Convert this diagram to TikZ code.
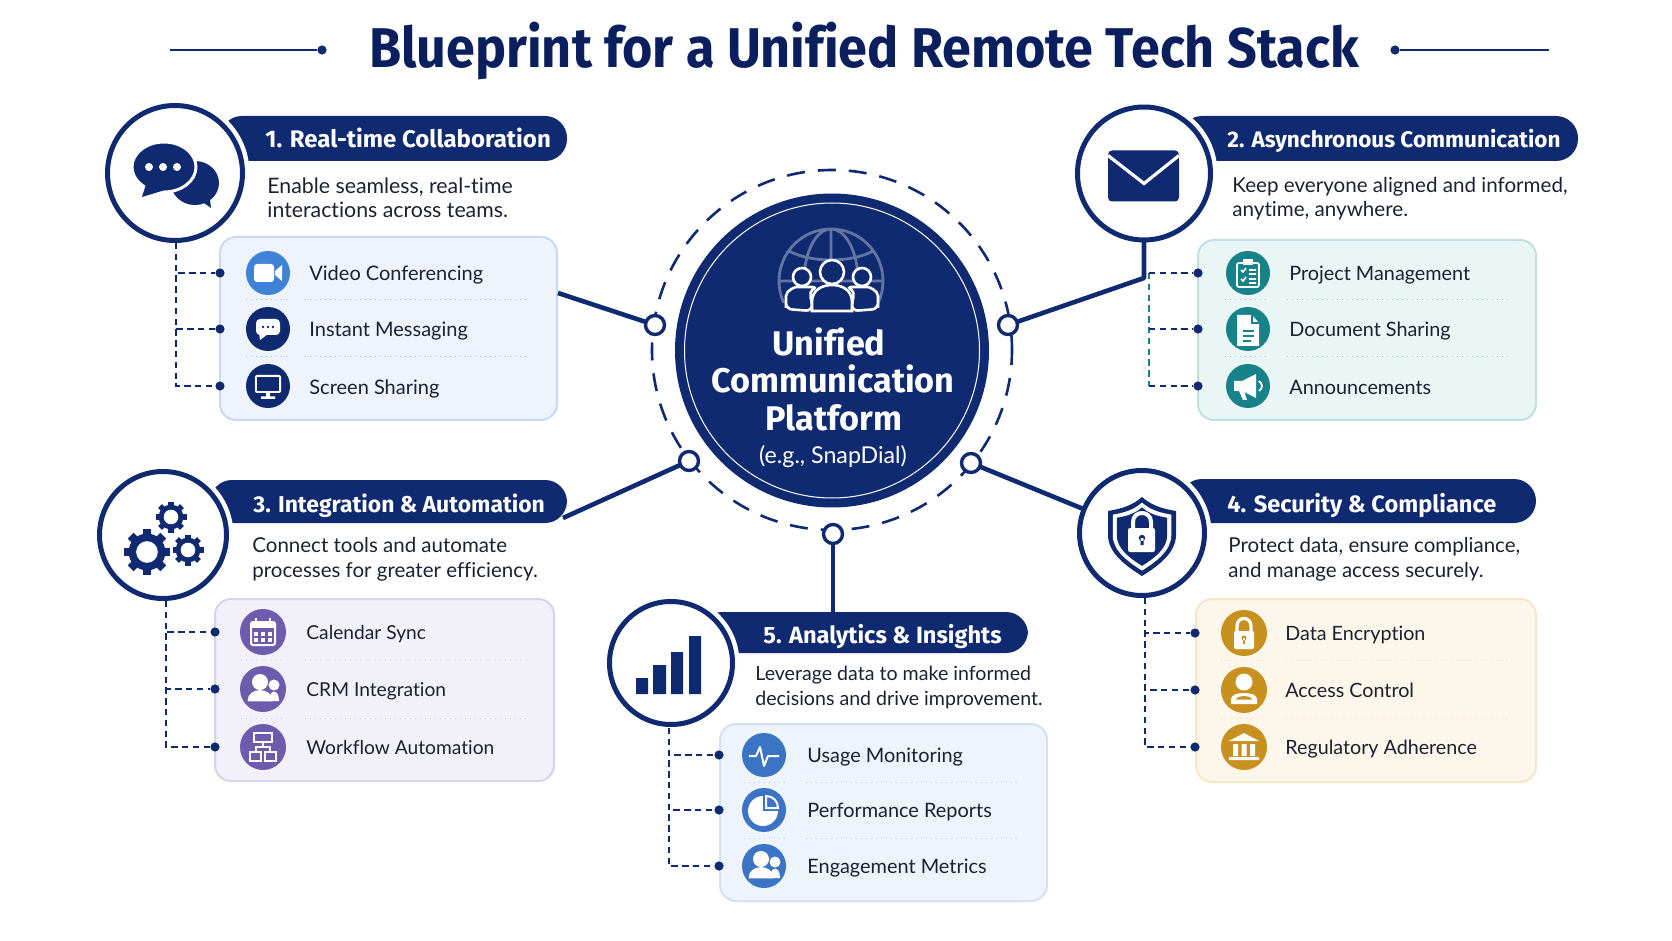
\documentclass[tikz,border=0pt]{standalone}
\usepackage{fontspec}
\setmainfont[Ligatures=NoCommon]{Lato}
\newfontfamily\headfont[Ligatures=NoCommon]{Fira Sans}
\newfontfamily\titlefont[Ligatures=NoCommon,FakeStretch=0.93]{Fira Sans}
\definecolor{navy}{HTML}{0F2A70}
\definecolor{inkblue}{HTML}{0B1F5E}
\definecolor{inktext}{HTML}{1B2130}
\definecolor{vidblue}{HTML}{3F82D8}
\definecolor{tealic}{HTML}{17828A}
\definecolor{purpleic}{HTML}{6F5BAE}
\definecolor{goldic}{HTML}{C8901E}
\definecolor{bluic}{HTML}{3B74C4}
\newcommand{\shieldpath}{(0,-40) .. controls (10,-31) and (22,-28) .. (34,-26) -- (34,-2) .. controls (34,16) and (16,29) .. (0,39) .. controls (-16,29) and (-34,16) .. (-34,-2) -- (-34,-26) .. controls (-22,-28) and (-10,-31) .. (0,-40) -- cycle}

\begin{document}
\begin{tikzpicture}[x=0.5pt,y=-0.5pt]
        % Setup the styles
        \tikzset{titletext/.style={anchor=base, inner sep=0, text=inkblue, font=\titlefont\bfseries\fontsize{28}{32}\selectfont},
                 headpill/.style={fill=navy, rounded corners=11pt, inner sep=0, outer sep=0},
                 headtext/.style={anchor=base west, inner sep=0, text=white, font=\headfont\bfseries\fontsize{#1}{14}\selectfont},
                 hubtext/.style={anchor=base, inner sep=0, text=white, font=\headfont\bfseries\fontsize{17.1}{19}\selectfont},
                 desctext/.style={anchor=base west, inner sep=0, align=left, text=inktext, font=\fontsize{#1}{12.3}\selectfont},
                 itemtext/.style={anchor=base west, inner sep=0, text=inktext, font=\fontsize{#1}{12}\selectfont},
                 panelbox/.style={rounded corners=8pt, line width=1pt, inner sep=0, outer sep=0},
                 iconring/.style={circle, inner sep=0, outer sep=0, draw=navy, fill=white, line width=2.5pt,
                                  preaction={draw=white, line width=7pt}},
                 itemicon/.style={circle, inner sep=0, outer sep=0, minimum size=22pt},
                 stubdot/.style={circle, inner sep=0, outer sep=0, fill=navy, minimum size=4.6pt},
                 port/.style={circle, inner sep=0, outer sep=0, minimum size=9.5pt, draw=navy, fill=white, line width=1.7pt},
                 spoke/.style={draw=navy, line width=2.3pt},
                 dashlink/.style={draw=navy, line width=0.8pt, dash pattern=on 3.2pt off 2.2pt},
                 seprule/.style={line width=0.5pt, dotted},
                 % Big icons in the rings
                 icon chat/.pic={
                     \fill[navy] (20,10) ellipse (24 and 22);
                     \fill[navy] (22,25) -- (36,35) -- (34,18) -- cycle;
                     \fill[navy, draw=white, line width=1.5pt] (-11,-6) ellipse (32 and 25);
                     \fill[navy] (-28,8) -- (-33,24) -- (-10,17) -- cycle;
                     \fill[white] (-26,-6) circle (4) (-12,-6) circle (4) (2,-6) circle (4);},
                 icon mail/.pic={
                     \fill[navy, rounded corners=2pt] (-36,-23) rectangle (35,28);
                     \draw[white, line width=1.6pt] (-36,-18) -- (0,10) -- (35,-18);},
                 icon gears/.pic={
                     \foreach \gx/\gy/\gr in {-16/17/23, 8/-18/15.5, 25/15/15.5} {
                         \fill[navy] (\gx,\gy) circle (\gr*0.8);
                         \foreach \a in {0,45,...,315}
                             \fill[navy, rotate around={\a:(\gx,\gy)}] (\gx-\gr*0.18,\gy-\gr*0.7) rectangle (\gx+\gr*0.18,\gy-\gr);
                         \fill[white] (\gx,\gy) circle (\gr*0.47);
                     }},
                 icon shield/.pic={
                     \begin{scope}[shift={(0,4)}]
                     \fill[navy] \shieldpath;
                     \fill[white, scale=0.86] \shieldpath;
                     \fill[navy, scale=0.74] \shieldpath;
                     \end{scope}
                     \fill[white, rounded corners=1pt] (-14,-5) rectangle (13,19);
                     \draw[white, line width=2pt] (-9,-5) -- (-9,-11) .. controls (-9,-23) and (9,-23) .. (9,-11) -- (9,-5);
                     \fill[navy] (0,5) circle (3.2) (-1.5,5) rectangle (1.5,12);},
                 icon bars/.pic={
                     \fill[navy] (-35,15) rectangle (-23,31) (-18,2) rectangle (-5,31)
                                 (0,-11) rectangle (12,31) (18,-27) rectangle (30,31);},
                 % Small icons in the lists
                 icon video/.pic={
                     \fill[white, rounded corners=1.5pt] (-14,-9) rectangle (6,9);
                     \fill[white] (7,-2) -- (14,-8) -- (14,8) -- (7,2) -- cycle;},
                 icon msg/.pic={
                     \fill[white, rounded corners=2pt] (-12,-10) rectangle (12,6);
                     \fill[white] (-9,4) -- (-8,11) -- (0,5) -- cycle;
                     \fill[navy] (-5,-2) circle (1.3) (0,-2) circle (1.3) (5,-2) circle (1.3);},
                 icon screen/.pic={
                     \fill[white, rounded corners=1pt] (-13,-11) rectangle (13,7);
                     \fill[navy] (-11,-9) rectangle (11,5);
                     \fill[white] (-2,7) rectangle (2,11) (-7,10.5) rectangle (7,13);},
                 icon clip/.pic={
                     \draw[white, line width=0.9pt, rounded corners=1pt] (-11,-10) rectangle (11,14);
                     \fill[white] (-5,-14) rectangle (5,-8);
                     \draw[white, line width=0.8pt] (-7,-3) -- (-5,-1) -- (-2,-5) (-7,6) -- (-5,8) -- (-2,4)
                                                    (1,-3) -- (8,-3) (1,1) -- (8,1) (1,6) -- (8,6) (1,10) -- (8,10);},
                 icon doc/.pic={
                     \fill[white] (-11,-14) -- (4,-14) -- (11,-6) -- (11,17) -- (-11,17) -- cycle;
                     \draw[tealic, line width=0.6pt] (4,-14) -- (4,-6) -- (11,-6);
                     \draw[tealic, line width=0.8pt] (-5,2) -- (6,2) (-5,7) -- (6,7) (-5,12) -- (3,12);},
                 icon horn/.pic={
                     \fill[white] (-14,-5) -- (-6,-5) -- (8,-12) -- (8,12) -- (-6,5) -- (-14,5) -- cycle;
                     \fill[white] (-9,5) -- (-4,5) -- (-1,14) -- (-5,14) -- cycle;
                     \draw[white, line width=0.9pt] (11,-5) .. controls (15,-2) and (15,2) .. (11,5);},
                 icon cal/.pic={
                     \draw[white, line width=1pt, rounded corners=1pt] (-12,-10) rectangle (12,13);
                     \fill[white] (-12,-10) rectangle (12,-4);
                     \draw[white, line width=1pt] (-7,-14) -- (-7,-9) (7,-14) -- (7,-9);
                     \foreach \cx in {-7,0,7} \foreach \cy in {2,8}
                         \fill[white] (\cx-2.2,\cy-2.2) rectangle (\cx+2.2,\cy+2.2);},
                 icon people/.pic={
                     \fill[white] (11,-4) circle (5.5);
                     \fill[white] (6,12) .. controls (6,0) and (16,-1) .. (16,12) -- cycle;
                     \fill[white] (-3,-7) circle (8);
                     \fill[white, draw=white] (-15,12) .. controls (-15,-2) and (9,-2) .. (9,12) -- cycle;},
                 icon flow/.pic={
                     \draw[white, line width=1pt] (-9,-14) rectangle (9,-5) (-13,5) rectangle (-2,14) (2,5) rectangle (13,14);
                     \draw[white, line width=1pt] (0,-5) -- (0,0) (-7,5) -- (-7,0) -- (7,0) -- (7,5);},
                 icon padlock/.pic={
                     \fill[white, rounded corners=1pt] (-10,-2) rectangle (10,16);
                     \draw[white, line width=1.6pt] (-7,-2) -- (-7,-7) .. controls (-7,-17) and (7,-17) .. (7,-7) -- (7,-2);
                     \fill[goldic] (0,5) circle (2.5) (-1,5) rectangle (1,11);},
                 icon guard/.pic={
                     \fill[white] (0,-8) circle (8.5);
                     \fill[white] (-13,14) -- (-13,9) .. controls (-13,1) and (13,1) .. (13,9) -- (13,14) -- cycle;
                     \fill[goldic] (-8,9.5) .. controls (-7,5) and (7,5) .. (8,9.5) -- cycle;},
                 icon bank/.pic={
                     \fill[white] (0,-14) -- (-15,-6) -- (15,-6) -- cycle;
                     \fill[white] (-11,-3) rectangle (-6,9) (-2.5,-3) rectangle (2.5,9) (6,-3) rectangle (11,9) (-15,10) rectangle (15,13);},
                 icon pulse/.pic={
                     \draw[white, line width=1pt, line join=round] (-15,1) -- (-8,1) -- (-4,-8) -- (0,11) -- (4,1) -- (15,1);},
                 icon pie/.pic={
                     \fill[white] (-1,1) circle (15);
                     \fill[bluic] (-1,-16) rectangle (16,1);
                     \draw[white, line width=1pt] (2,-14) .. controls (9,-14) and (14,-9) .. (14,-2) -- (2,-2) -- cycle;},
                 icon globe/.pic={
                     \begin{scope}
                     \clip (-60,-60) rectangle (60,22);
                     \draw[draw=white!35!navy, line width=1.4pt] (0,0) circle (52) (0,0) ellipse (27 and 52)
                         (0,-52) -- (0,0) (-42,-30) .. controls (-20,-18) and (20,-18) .. (42,-30)
                         (-52,0) -- (52,0);
                     \end{scope}},
                 icon crew/.pic={
                     \draw[white, line width=1.3pt, fill=navy, rounded corners=3pt] (-46,27) -- (-46,20) .. controls (-46,8) and (-36,5) .. (-30,5) -- (-14,5) .. controls (-24,10) and (-20,20) .. (-20,29) -- cycle;
                     \draw[white, line width=1.3pt, fill=navy, rounded corners=3pt] (46,27) -- (46,20) .. controls (46,8) and (36,5) .. (30,5) -- (14,5) .. controls (24,10) and (20,20) .. (20,29) -- cycle;
                     \draw[white, line width=1.3pt, fill=navy] (-30,-5) circle (9) (30,-5) circle (9);
                     \draw[white, line width=1.3pt, fill=navy] (-20,29) -- (-20,20) .. controls (-20,8) and (-10,3) .. (0,3) .. controls (10,3) and (20,8) .. (20,20) -- (20,29) -- cycle;
                     \draw[white, line width=1.3pt, fill=navy] (0,-10) circle (12);}}

        \useasboundingbox (0,0) rectangle (1672,941);

        % Draw the title
        \node[titletext] at (864,67.5) (title) {Blueprint for a Unified Remote Tech Stack};
        \coordinate (ruleLend) at (170,50);
        \coordinate (ruleRend) at (1549,50);
        \node[stubdot] at (322,50) (ruleLdot) {};
        \node[stubdot] at (1395,50) (ruleRdot) {};
        \draw[navy, line width=0.9pt] (ruleLend) -- (ruleLdot);
        \draw[navy, line width=0.9pt] (ruleRdot) -- (ruleRend);

        % Draw the central platform
        \node[circle, inner sep=0, outer sep=0, minimum size=180pt, draw=navy, line width=1.3pt, dash pattern=on 9pt off 6.5pt] at (832,350) (orbit) {};
        \node[circle, inner sep=0, outer sep=0, minimum size=157pt, fill=navy] at (832,350.5) (hub) {};
        \node[circle, inner sep=0, outer sep=0, minimum size=147.5pt, draw=white, line width=0.5pt] at (832,350.5) (hubline) {};
        \pic at (831,281) {icon globe};
        \pic at (832,282) {icon crew};
        \node[hubtext] at (829,356) (hubname) {Unified};
        \node[hubtext] at (833,393) (hubname2) {Communication};
        \node[hubtext] at (834,430) (hubname3) {Platform};
        \node[inner sep=0, anchor=base, text=white, font=\fontsize{11.6}{13}\selectfont] at (833,463.5) (hubnote) {(e.g., SnapDial)};

        % Draw the rounded boxes
        \definecolor{boxa}{HTML}{EEF3FC}\definecolor{rima}{HTML}{C8D8F5}
        \definecolor{boxb}{HTML}{EAF5F5}\definecolor{rimb}{HTML}{BFE0E2}
        \definecolor{boxc}{HTML}{F2F1FA}\definecolor{rimc}{HTML}{D6D3EA}
        \definecolor{boxd}{HTML}{FDF6EA}\definecolor{rimd}{HTML}{F6E6C8}
        \definecolor{boxe}{HTML}{EEF4FC}\definecolor{rime}{HTML}{D3E1F4}
        \node[panelbox, fill=boxa, draw=rima, minimum width=168.5pt, minimum height=91.5pt] at (388.5,328.5) (box1) {};
        \node[panelbox, fill=boxb, draw=rimb, minimum width=169pt, minimum height=90pt] at (1367,330) (box2) {};
        \node[panelbox, fill=boxc, draw=rimc, minimum width=169.5pt, minimum height=91pt] at (384.5,690) (box3) {};
        \node[panelbox, fill=boxd, draw=rimd, minimum width=170pt, minimum height=91.5pt] at (1366,690.5) (box4) {};
        \node[panelbox, fill=boxe, draw=rime, minimum width=163.5pt, minimum height=88.5pt] at (883.5,812.5) (box5) {};

        % Draw the header pills
        \node[headpill, minimum width=173.5pt, minimum height=22.5pt] at (393.5,138.5) (pill1) {};
        \node[headpill, minimum width=199pt, minimum height=22.5pt] at (1379,138.5) (pill2) {};
        \node[headpill, minimum width=178.5pt, minimum height=21.5pt] at (388.5,501.5) (pill3) {};
        \node[headpill, minimum width=178pt, minimum height=22pt] at (1358,501) (pill4) {};
        \node[headpill, minimum width=164pt, minimum height=20.5pt] at (864,632.5) (pill5) {};

        % Draw the rings with their icons
        \node[iconring, minimum size=67.5pt] at (175,173) (ring1) {};
        \node[iconring, minimum size=66.5pt] at (1144,173.5) (ring2) {};
        \node[iconring, minimum size=63.5pt] at (163,535) (ring3) {};
        \node[iconring, minimum size=62.5pt] at (1142,533) (ring4) {};
        \node[iconring, minimum size=61.5pt] at (671,663) (ring5) {};
        \pic at (ring1) {icon chat};
        \pic at (ring2) {icon mail};
        \pic at (ring3) {icon gears};
        \pic at (ring4) {icon shield};
        \pic at (ring5) {icon bars};

        % Draw the ports on the orbit
        \node[port] at (655,325) (port1) {};
        \node[port] at (1008,325) (port2) {};
        \node[port] at (689,461) (port3) {};
        \node[port] at (971,463) (port4) {};
        \node[port] at (833,534) (port5) {};

        % Connect the ports with the panels
        \coordinate (tap1) at (558,293);
        \coordinate (bend2) at (1144,278);
        \coordinate (tap3) at (563,518);
        \draw[spoke] (tap1) -- (port1);
        \draw[spoke, line join=round] (port2) -- (bend2) -- (ring2);
        \draw[spoke] (port3) -- (tap3);
        \draw[spoke] (port4) -- (ring4);
        \draw[spoke] (port5) -- (port5 |- pill5.north);

        % Header and description texts
        \node[headtext=12] at (265,148) (head1) {1. Real-time Collaboration};
        \node[headtext=11.26] at (1227,148) (head2) {2. Asynchronous Communication};
        \node[headtext=11.45] at (253,512) (head3) {3. Integration \& Automation};
        \node[headtext=11.8] at (1227,512) (head4) {4. Security \& Compliance};
        \node[headtext=11.8] at (763,643) (head5) {5. Analytics \& Insights};
        \node[desctext=10.65] at (267,218) (desc1) {Enable seamless, real-time\\interactions across teams.};
        \node[desctext=10.3] at (1232,217) (desc2) {Keep everyone aligned and informed,\\anytime, anywhere.};
        \node[desctext=10.25] at (252,577) (desc3) {Connect tools and automate\\processes for greater efficiency.};
        \node[desctext=10.25] at (1228,577) (desc4) {Protect data, ensure compliance,\\and manage access securely.};
        \node[desctext=9.8] at (755,705) (desc5) {Leverage data to make informed\\decisions and drive improvement.};

        % Draw the list of panel 1
        \node[itemicon, fill=vidblue] at (268,273) (video) {};
        \node[itemicon, fill=navy] at (268,329) (msg) {};
        \node[itemicon, fill=navy] at (268,386) (screen) {};
        \pic at (video) {icon video};
        \pic at (msg) {icon msg};
        \pic at (screen) {icon screen};
        \node[itemtext=10] at (309,281) (videotext) {Video Conferencing};
        \node[itemtext=10] at (309,337) (msgtext) {Instant Messaging};
        \node[itemtext=10] at (309,394) (screentext) {Screen Sharing};
        \draw[seprule, blue!30!white] (246,300) -- (290,300) (305,300) -- (530,300) (246,357) -- (290,357) (305,357) -- (530,357);
        \node[stubdot] at (220,273) (dot1a) {};
        \node[stubdot] at (220,329) (dot1b) {};
        \node[stubdot] at (220,386) (dot1c) {};
        \coordinate (trunk1) at (176,243);
        \draw[dashlink] (trunk1) |- (dot1a);
        \draw[dashlink] (trunk1) |- (dot1b);
        \draw[dashlink] (trunk1) |- (dot1c);

        % Draw the list of panel 2
        \node[itemicon, fill=tealic] at (1248,273) (project) {};
        \node[itemicon, fill=tealic] at (1248,329) (document) {};
        \node[itemicon, fill=tealic] at (1248,386) (announce) {};
        \pic at (project) {icon clip};
        \pic at (document) {icon doc};
        \pic at (announce) {icon horn};
        \node[itemtext=9.9] at (1289,281) (projecttext) {Project Management};
        \node[itemtext=9.9] at (1289,337) (documenttext) {Document Sharing};
        \node[itemtext=9.9] at (1289,394) (announcetext) {Announcements};
        \draw[seprule, teal!40!white] (1225,300) -- (1268,300) (1287,300) -- (1510,300) (1225,357) -- (1268,357) (1287,357) -- (1510,357);
        \node[stubdot] at (1198,273) (dot2a) {};
        \node[stubdot] at (1198,329) (dot2b) {};
        \node[stubdot] at (1198,386) (dot2c) {};
        \coordinate (trunk2) at (1149,273);
        \draw[dashlink, draw=tealic] (trunk2) -- (trunk2 |- dot2c);
        \draw[dashlink] (trunk2) -- (dot2a);
        \draw[dashlink] (trunk2 |- dot2b) -- (dot2b);
        \draw[dashlink] (trunk2 |- dot2c) -- (dot2c);

        % Draw the list of panel 3
        \node[itemicon, minimum size=23pt, fill=purpleic] at (263,632) (calendar) {};
        \node[itemicon, minimum size=23pt, fill=purpleic] at (263,689) (crm) {};
        \node[itemicon, minimum size=23pt, fill=purpleic] at (263,747) (workflow) {};
        \pic at (calendar) {icon cal};
        \pic at (crm) {icon people};
        \pic at (workflow) {icon flow};
        \node[itemtext=9.6] at (306,639) (calendartext) {Calendar Sync};
        \node[itemtext=9.6] at (306,696) (crmtext) {CRM Integration};
        \node[itemtext=9.6] at (306,754) (workflowtext) {Workflow Automation};
        \draw[seprule, violet!25!white] (241,660) -- (286,660) (305,660) -- (528,660) (241,718) -- (286,718) (305,718) -- (528,718);
        \node[stubdot] at (215,632) (dot3a) {};
        \node[stubdot] at (215,689) (dot3b) {};
        \node[stubdot] at (215,747) (dot3c) {};
        \coordinate (trunk3) at (166,601);
        \draw[dashlink] (trunk3) |- (dot3a);
        \draw[dashlink] (trunk3) |- (dot3b);
        \draw[dashlink] (trunk3) |- (dot3c);

        % Draw the list of panel 4
        \node[itemicon, minimum size=23pt, fill=goldic] at (1244,633) (encrypt) {};
        \node[itemicon, minimum size=23pt, fill=goldic] at (1244,690) (access) {};
        \node[itemicon, minimum size=23pt, fill=goldic] at (1244,747) (regulate) {};
        \pic at (encrypt) {icon padlock};
        \pic at (access) {icon guard};
        \pic at (regulate) {icon bank};
        \node[itemtext=9.85] at (1285,640) (encrypttext) {Data Encryption};
        \node[itemtext=9.85] at (1285,697) (accesstext) {Access Control};
        \node[itemtext=9.85] at (1285,754) (regulatetext) {Regulatory Adherence};
        \draw[seprule, orange!35!white] (1221,660) -- (1265,660) (1286,660) -- (1509,660) (1221,718) -- (1265,718) (1286,718) -- (1509,718);
        \node[stubdot] at (1195,633) (dot4a) {};
        \node[stubdot] at (1195,690) (dot4b) {};
        \node[stubdot] at (1195,747) (dot4c) {};
        \coordinate (trunk4) at (1145,598);
        \draw[dashlink] (trunk4) |- (dot4a);
        \draw[dashlink] (trunk4) |- (dot4b);
        \draw[dashlink] (trunk4) |- (dot4c);

        % Draw the list of panel 5
        \node[itemicon, fill=bluic] at (764,755) (usage) {};
        \node[itemicon, fill=bluic] at (764,810) (reports) {};
        \node[itemicon, fill=bluic] at (764,866) (engage) {};
        \pic at (usage) {icon pulse};
        \pic at (reports) {icon pie};
        \pic at (engage) {icon people};
        \node[itemtext=9.95] at (807,762) (usagetext) {Usage Monitoring};
        \node[itemtext=9.95] at (807,817) (reportstext) {Performance Reports};
        \node[itemtext=9.95] at (807,873.5) (engagetext) {Engagement Metrics};
        \draw[seprule, blue!25!white] (744,782) -- (787,782) (806,782) -- (1021,782) (744,838) -- (787,838) (806,838) -- (1021,838);
        \node[stubdot] at (719,755) (dot5a) {};
        \node[stubdot] at (719,810) (dot5b) {};
        \node[stubdot] at (719,866) (dot5c) {};
        \coordinate (trunk5) at (669,728);
        \draw[dashlink] (trunk5) |- (dot5a);
        \draw[dashlink] (trunk5) |- (dot5b);
        \draw[dashlink] (trunk5) |- (dot5c);
\end{tikzpicture}
\end{document}
